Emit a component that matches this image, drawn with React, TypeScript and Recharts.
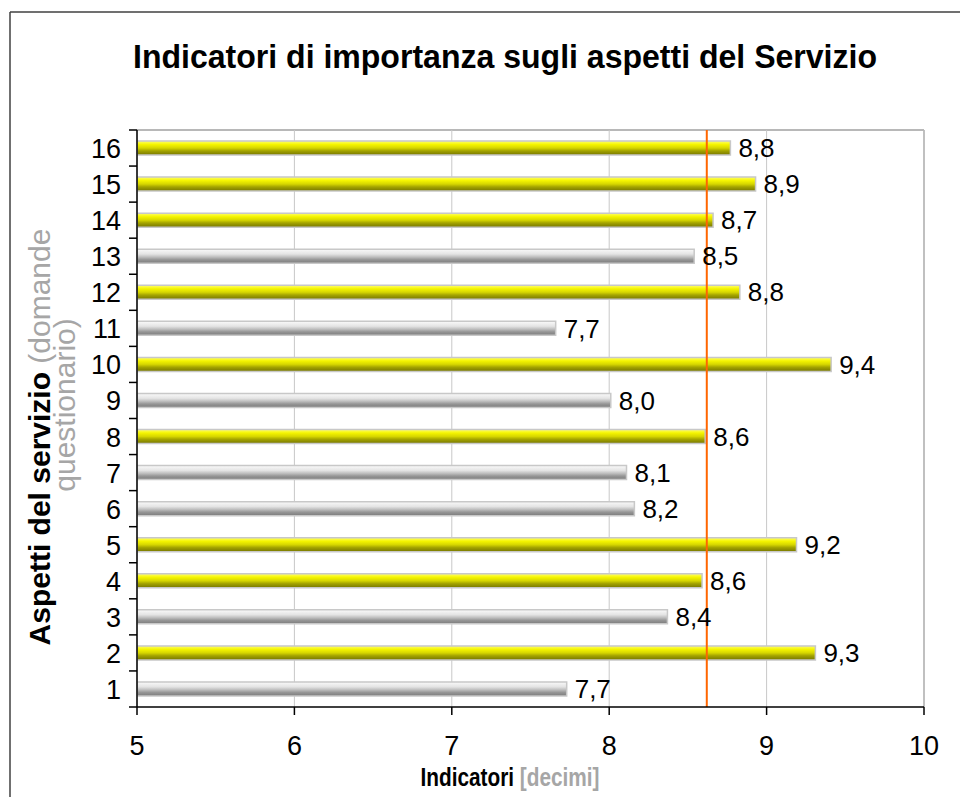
import React from 'react'
import { BarChart, Bar, XAxis, YAxis, CartesianGrid, ReferenceLine, LabelList, Cell } from 'recharts'

// aspetti 1..16 (domande del questionario)
const categories = ['1', '2', '3', '4', '5', '6', '7', '8', '9', '10', '11', '12', '13', '14', '15', '16']
const values = [7.73, 9.31, 8.37, 8.59, 9.19, 8.16, 8.11, 8.61, 8.01, 9.41, 7.66, 8.83, 8.54, 8.66, 8.93, 8.77]
const xTicks = [5, 6, 7, 8, 9, 10]
const soglia = 8.62

const FONT = '"Liberation Sans", Arial, sans-serif'
const W = 960
const H = 797
const PLOT_LEFT = 137
const PLOT_TOP = 130
const PLOT_RIGHT = 924
const PLOT_BOTTOM = 707
const BAND = (PLOT_BOTTOM - PLOT_TOP) / categories.length

const media = values.reduce((a, b) => a + b, 0) / values.length
const data = categories.map((name, i) => ({ name, value: values[i] }))

const fmt = (v: any) => Number(v).toFixed(1).replace('.', ',')

function YTick(props: any) {
  const { y, payload, index } = props
  return (
    <g>
      <text x={121} y={y + 1} textAnchor="end" dominantBaseline="central" fontSize={27} fontFamily={FONT} fill="#000">
        {payload.value}
      </text>
      <line x1={PLOT_LEFT - 8} x2={PLOT_LEFT} y1={y + BAND / 2} y2={y + BAND / 2} stroke="#000" strokeWidth={1.5} />
      {index === categories.length - 1 && (
        <line x1={PLOT_LEFT - 8} x2={PLOT_LEFT} y1={y - BAND / 2} y2={y - BAND / 2} stroke="#000" strokeWidth={1.5} />
      )}
    </g>
  )
}

export default function App() {
  return (
    <div style={{ position: 'absolute', left: 0, top: 0, width: W, height: H, background: '#fff' }}>
      <svg width={W} height={H} style={{ position: 'absolute', left: 0, top: 0 }}>
        <defs>
          <linearGradient id="gradGiallo" x1="0" y1="0" x2="0" y2="1">
            <stop offset="0%" stopColor="#FFFF70" />
            <stop offset="25%" stopColor="#F5F500" />
            <stop offset="50%" stopColor="#D6D600" />
            <stop offset="70%" stopColor="#A4A400" />
            <stop offset="100%" stopColor="#767600" />
          </linearGradient>
          <linearGradient id="gradGrigio" x1="0" y1="0" x2="0" y2="1">
            <stop offset="0%" stopColor="#FAFAFA" />
            <stop offset="35%" stopColor="#E4E4E4" />
            <stop offset="55%" stopColor="#C0C0C0" />
            <stop offset="75%" stopColor="#969696" />
            <stop offset="100%" stopColor="#7C7C7C" />
          </linearGradient>
        </defs>
        <line x1={10} x2={W} y1={12} y2={12} stroke="#404040" strokeWidth={1.5} />
        <line x1={10} x2={10} y1={12} y2={H} stroke="#404040" strokeWidth={1.5} />
        <line x1={PLOT_LEFT} x2={PLOT_RIGHT} y1={PLOT_TOP} y2={PLOT_TOP} stroke="#A0A0A0" strokeWidth={1.5} />
        <line x1={PLOT_RIGHT} x2={PLOT_RIGHT} y1={PLOT_TOP} y2={PLOT_BOTTOM} stroke="#A0A0A0" strokeWidth={1.5} />
      </svg>
      <div style={{ position: 'absolute', left: 0, top: 0 }}>
        <BarChart
          width={W}
          height={H}
          data={data}
          layout="vertical"
          margin={{ top: PLOT_TOP, right: W - PLOT_RIGHT, left: 0, bottom: H - PLOT_BOTTOM - 60 }}
        >
          <CartesianGrid horizontal={false} stroke="#C8C8C8" strokeWidth={1} />
          <XAxis
            type="number"
            domain={[5, 10]}
            ticks={xTicks}
            allowDataOverflow
            height={60}
            tick={{ fill: '#000', fontSize: 27, fontFamily: FONT }}
            tickSize={8}
            tickMargin={21}
            axisLine={{ stroke: '#000', strokeWidth: 1.5 }}
            tickLine={{ stroke: '#000', strokeWidth: 1.5 }}
          />
          <YAxis
            type="category"
            dataKey="name"
            reversed
            width={PLOT_LEFT}
            interval={0}
            tick={<YTick />}
            tickLine={false}
            axisLine={{ stroke: '#000', strokeWidth: 1.5 }}
          />
          <Bar dataKey="value" barSize={14} stroke="#C8C8C8" strokeWidth={1.5} isAnimationActive={false}>
            {data.map((d, i) => (
              <Cell key={i} fill={d.value >= media ? 'url(#gradGiallo)' : 'url(#gradGrigio)'} />
            ))}
            <LabelList dataKey="value" position="right" offset={8} formatter={fmt} fill="#000" fontSize={26} fontFamily={FONT} />
          </Bar>
          <ReferenceLine x={soglia} stroke="#FF6600" strokeWidth={2} ifOverflow="extendDomain" />
        </BarChart>
      </div>
      <svg width={W} height={H} style={{ position: 'absolute', left: 0, top: 0, pointerEvents: 'none' }}>
        <text x={505} y={68} textAnchor="middle" fontSize={34} fontWeight="bold" fontFamily={FONT} fill="#000" textLength={744} lengthAdjust="spacingAndGlyphs">
          Indicatori di importanza sugli aspetti del Servizio
        </text>
        <text transform="translate(50,437) rotate(-90)" textAnchor="middle" fontSize={30} fontFamily={FONT}>
          <tspan fontWeight="bold" fill="#000">Aspetti del servizio</tspan>
          <tspan fill="#A6A6A6"> (domande</tspan>
        </text>
        <text transform="translate(75,405) rotate(-90)" textAnchor="middle" fontSize={30} fontFamily={FONT} fill="#A6A6A6">
          questionario)
        </text>
        <text transform="translate(510,786) scale(0.8,1)" textAnchor="middle" fontSize={26} fontWeight="bold" fontFamily={FONT}>
          <tspan fill="#000">Indicatori</tspan>
          <tspan fill="#A6A6A6"> [decimi]</tspan>
        </text>
      </svg>
    </div>
  )
}
